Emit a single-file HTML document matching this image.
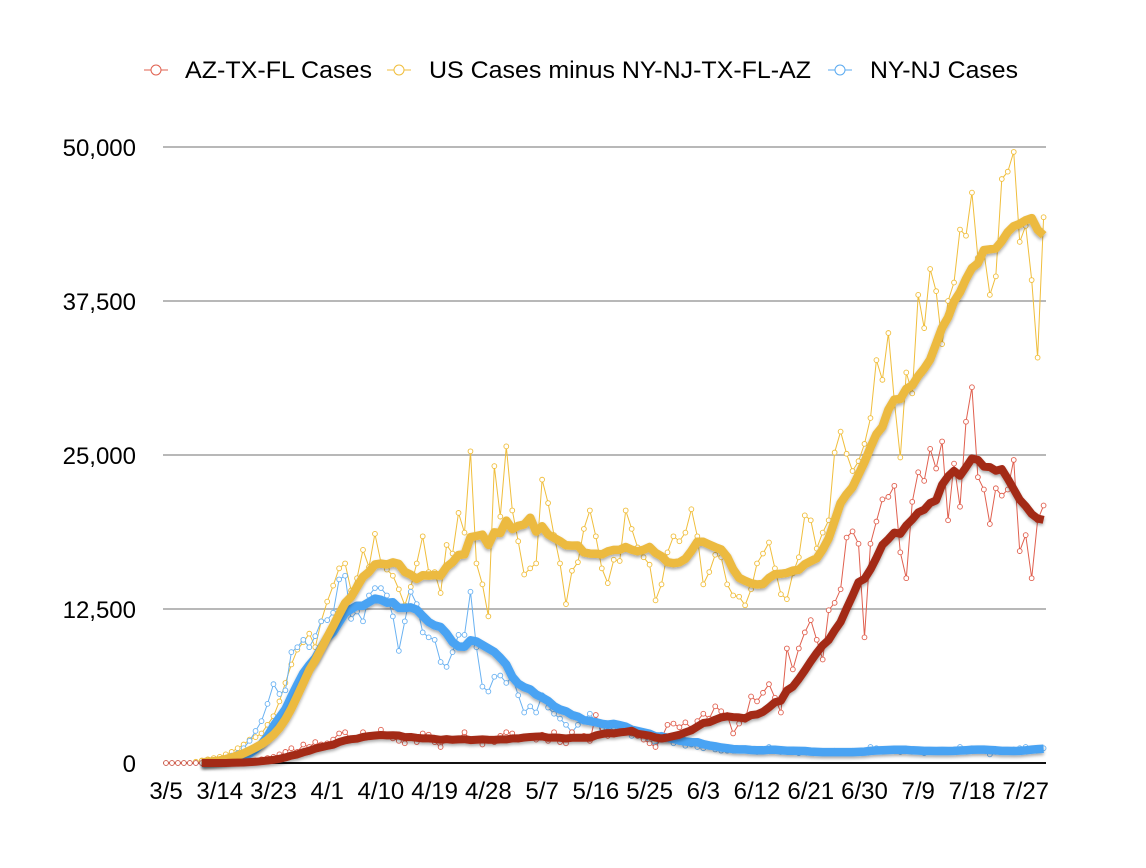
<!DOCTYPE html>
<html><head><meta charset="utf-8">
<style>
html,body{margin:0;padding:0;background:#fff;}
body{width:1146px;height:868px;position:relative;overflow:hidden;font-family:"Liberation Sans",Arial,sans-serif;}
svg{position:absolute;left:0;top:0;}
</style></head>
<body>
<svg id="chart" width="1146" height="868">
  <defs>
    <filter id="sh" x="-5%" y="-5%" width="110%" height="110%">
      <feGaussianBlur in="SourceAlpha" stdDeviation="1.5"/>
      <feOffset dx="0" dy="2" result="o"/>
      <feComponentTransfer><feFuncA type="linear" slope="0.35"/></feComponentTransfer>
      <feMerge><feMergeNode/><feMergeNode in="SourceGraphic"/></feMerge>
    </filter>
  </defs>
  <g id="legend">
    <g>
      <line x1="144" y1="70" x2="168" y2="70" stroke="#e0604f" stroke-width="1"/>
      <circle cx="156" cy="70" r="5" fill="#fff" stroke="#e0604f" stroke-width="1"/>
      <text x="185" y="78" font-size="24.5" fill="#000" textLength="187" lengthAdjust="spacingAndGlyphs">AZ-TX-FL Cases</text>
    </g>
    <g>
      <line x1="387" y1="70" x2="411" y2="70" stroke="#f0be3c" stroke-width="1"/>
      <circle cx="399" cy="70" r="5" fill="#fff" stroke="#f0be3c" stroke-width="1"/>
      <text x="429" y="78" font-size="24.5" fill="#000" textLength="382" lengthAdjust="spacingAndGlyphs">US Cases minus NY-NJ-TX-FL-AZ</text>
    </g>
    <g>
      <line x1="828" y1="70" x2="852" y2="70" stroke="#5aaaf0" stroke-width="1"/>
      <circle cx="840" cy="70" r="5" fill="#fff" stroke="#5aaaf0" stroke-width="1"/>
      <text x="870" y="78" font-size="24.5" fill="#000" textLength="148" lengthAdjust="spacingAndGlyphs">NY-NJ Cases</text>
    </g>
  </g>
  <g id="grid"></g>
  <g id="ylabels"></g>
  <g id="xlabels"></g>
  <g id="thin"></g>
  <g id="thick"></g>
</svg>
<script>
const yTicks = [0, 12500, 25000, 37500, 50000];
const yTickLabels = ["0", "12,500", "25,000", "37,500", "50,000"];
const xTickLabels = ["3/5","3/14","3/23","4/1","4/10","4/19","4/28","5/7","5/16","5/25","6/3","6/12","6/21","6/30","7/9","7/18","7/27"];
const xTickDays = [0,9,18,27,36,45,54,63,72,81,90,99,108,117,126,135,144];
// daily cases, thousands, day 0 = 3/5
const azTxFl = [0,0,0,0,0,0,0,0,0,0,
0,0.1,0.1,0.1,0.2,0.2,0.3,0.4,0.5,0.7,
0.9,1.2,0.9,1.5,1.3,1.7,1.5,1.6,1.9,2.4,
2.5,1.9,2.0,2.5,2.1,2.2,2.7,2.3,2.0,1.8,
1.6,2.2,1.7,2.4,2.3,1.7,1.3,2.0,1.8,1.9,
2.5,1.8,1.9,1.5,1.8,1.7,2.2,2.5,2.4,1.9,
2.0,2.1,1.9,2.3,1.8,2.5,1.7,1.6,2.5,2.0,
2.2,1.8,3.9,2.4,2.2,2.3,2.6,2.5,2.4,2.2,
1.9,1.6,1.3,2.0,3.1,3.2,2.9,3.3,2.8,3.4,
4.0,3.6,4.6,4.2,3.9,2.4,3.2,3.5,5.4,5.0,
5.7,6.4,5.3,4.1,9.3,7.6,9.3,10.6,11.6,10.0,
8.4,12.4,13.0,14.1,18.3,18.8,17.8,10.2,17.8,19.6,
21.4,21.6,22.5,17.1,15.0,21.2,23.6,22.9,25.5,23.9,
26.1,19.7,24.3,20.8,27.7,30.5,23.2,22.2,19.4,22.3,
21.7,22.2,24.6,17.2,18.5,15.0,19.7,20.9];
const usMinus = [0,0,0,0,0,0.1,0.2,0.3,0.4,0.5,
0.7,0.9,1.2,1.5,1.9,2.1,2.4,3.1,3.8,5.0,
6.5,8.0,9.2,9.8,10.5,9.4,11.5,13.1,14.4,15.8,
16.2,14.0,15.0,17.3,15.9,18.6,16.3,15.7,15.2,14.1,
12.8,14.3,16.2,18.4,15.5,15.5,13.8,17.7,17.0,20.3,
18.7,25.3,16.2,14.5,11.9,24.1,20.0,25.7,20.5,18.0,
15.3,15.8,16.2,23.0,21.1,18.5,16.2,12.9,15.6,16.3,
19.0,20.5,18.4,15.8,14.6,16.5,16.4,20.5,19.0,17.5,
16.7,16.1,13.2,14.5,17.1,18.4,18.0,18.7,20.6,18.4,
14.5,15.5,16.9,16.7,14.5,13.6,13.5,12.8,14.1,16.2,
17.0,17.9,15.8,13.7,13.3,15.4,16.7,20.1,19.7,17.4,
18.7,19.7,25.2,26.9,25.1,23.7,24.5,25.9,28.0,32.7,
31.1,34.9,29.4,24.8,31.7,30.0,38.0,35.3,40.1,38.3,
34.0,37.5,39.0,43.3,42.8,46.3,41.0,41.5,38.0,39.5,
47.4,48.0,49.6,42.3,43.6,39.2,32.9,44.3];
const nyNj = [0,0,0,0,0,0,0,0.1,0.2,0.3,
0.4,0.6,0.8,1.2,1.8,2.6,3.4,4.8,6.4,5.6,
5.9,9.0,9.4,10.0,9.4,10.3,11.5,11.6,12.2,14.9,
15.2,11.7,12.3,11.5,13.6,14.2,14.2,13.6,11.9,9.1,
11.5,13.9,12.9,10.6,10.2,10.0,8.2,7.8,9.0,10.4,
10.4,13.9,9.4,6.2,5.8,7.0,7.1,6.5,7.0,5.5,
4.1,4.6,4.1,5.5,4.5,4.0,3.6,3.1,2.5,3.1,
3.5,4.0,3.3,2.8,2.6,2.9,2.4,2.7,2.2,2.6,
2.0,1.8,1.4,2.3,2.0,1.6,1.7,1.4,1.5,1.3,
1.2,1.3,1.1,1.0,1.0,1.0,1.1,1.2,1.0,0.9,
1.0,1.3,1.0,0.9,0.9,1.0,0.8,0.9,1.0,0.8,
0.8,0.9,1.0,0.8,0.9,1.0,0.9,1.0,1.3,1.2,
1.0,1.0,1.1,0.9,1.0,1.0,1.1,0.8,1.0,1.0,
1.0,0.9,1.1,1.3,1.0,1.2,1.1,1.0,0.7,0.9,
1.0,1.0,1.1,1.2,1.3,1.1,1.2,1.2];

const X0 = 166, DX = 5.97, Y0 = 763, YPX = 154 / 12500;
function xs(d){ return X0 + d * DX; }
function ys(v){ return Y0 - v * YPX; }
const NS = "http://www.w3.org/2000/svg";
function mk(tag, attrs, parent){ const e = document.createElementNS(NS, tag); for (const k in attrs) e.setAttribute(k, attrs[k]); parent.appendChild(e); return e; }

const grid = document.getElementById('grid');
const yl = document.getElementById('ylabels');
yTicks.forEach((t, i) => {
  if (t > 0) {
    const g = mk('line', {x1:163, x2:1046, y1:ys(t), y2:ys(t), stroke:'#b8b8b8', 'stroke-width':2}, grid);
    
    
  }
  const tx = mk('text', {x:136, y:ys(t)+9, 'font-size':24, 'text-anchor':'end', fill:'#000'}, yl);
  tx.textContent = yTickLabels[i];
  
  
});
const ax = mk('line', {x1:163, x2:1046, y1:Y0, y2:Y0, stroke:'#111', 'stroke-width':2}, grid);


const xl = document.getElementById('xlabels');
xTickLabels.forEach((l, i) => {
  const tx = mk('text', {x:xs(xTickDays[i]), y:799, 'font-size':24, 'text-anchor':'middle', fill:'#000'}, xl);
  tx.textContent = l;
  
  
});

const thin = document.getElementById('thin');
const thick = document.getElementById('thick');
function drawThin(arr, color, name){
  const g = mk('g', {}, thin);
  
  
  const pts = arr.map((v, d) => xs(d).toFixed(1) + ',' + (ys(v*1000)).toFixed(1)).join(' ');
  mk('polyline', {points:pts, fill:'none', stroke:color, 'stroke-width':1}, g);
  arr.forEach((v, d) => {
    const c = mk('circle', {cx:xs(d), cy:ys(v*1000), r:2.4, fill:'#fff', stroke:color, 'stroke-width':0.9}, g);
    
    
  });
}
function drawAvg(arr, color, w, name){
  const pts = [];
  for (let d = 6; d < arr.length; d++) {
    let s = 0; for (let k = d - 6; k <= d; k++) s += arr[k];
    pts.push(xs(d).toFixed(1) + ',' + ys(s / 7 * 1000).toFixed(1));
  }
  const p = mk('polyline', {points:pts.join(' '), fill:'none', stroke:color, 'stroke-width':w, 'stroke-linejoin':'round', filter:'url(#sh)'}, thick);
  
  
}
drawThin(usMinus, '#f0be3c', 'us-minus');
drawThin(nyNj, '#6ab2f2', 'ny-nj');
drawThin(azTxFl, '#e0604f', 'az-tx-fl');
drawAvg(nyNj, '#4aa3f3', 8.5, 'ny-nj');
drawAvg(usMinus, '#ecba40', 8.5, 'us-minus');
drawAvg(azTxFl, '#a32916', 8, 'az-tx-fl');
</script>
</body></html>
